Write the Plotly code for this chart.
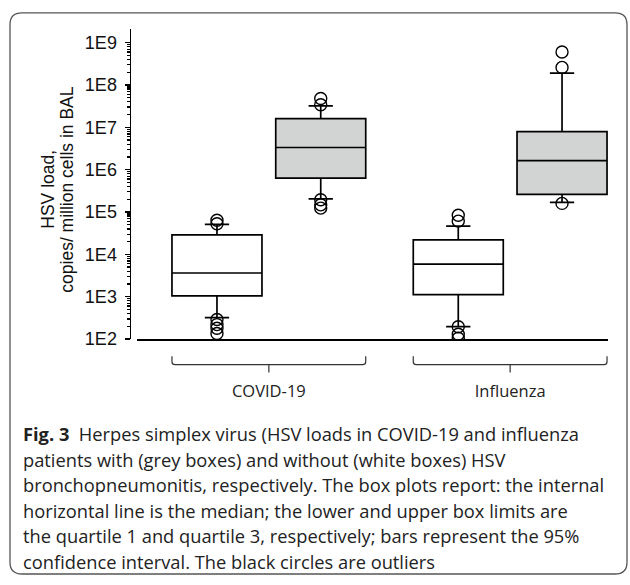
import plotly.graph_objects as go

# ---------------- data ----------------
categories = ["COVID-19", "Influenza"]

# without HSV bronchopneumonitis (white boxes)
without_q1 = [1.05e3, 1.12e3]
without_median = [3.64e3, 5.9e3]
without_q3 = [2.88e4, 2.2e4]
without_low = [3.2e2, 1.97e2]
without_high = [5.1e4, 4.66e4]
without_outliers = [
    [6.4e4, 5.3e4, 2.9e2, 2.2e2, 1.8e2, 1.36e2],
    [8.4e4, 6.1e4, 1.95e2, 1.3e2, 1.05e2],
]

# with HSV bronchopneumonitis (grey boxes)
with_q1 = [6.3e5, 2.6e5]
with_median = [3.34e6, 1.64e6]
with_q3 = [1.6e7, 7.9e6]
with_low = [2.05e5, 1.7e5]
with_high = [3.2e7, 1.9e8]
with_outliers = [
    [4.8e7, 3.4e7, 1.95e5, 1.48e5, 1.24e5],
    [6.0e8, 2.6e8, 1.6e5],
]

y_tick_vals = [1e2, 1e3, 1e4, 1e5, 1e6, 1e7, 1e8, 1e9]
y_tick_text = ["1E2", "1E3", "1E4", "1E5", "1E6", "1E7", "1E8", "1E9"]

y_title_lines = ["HSV load,", "copies/ million cells in BAL"]
caption_lines = [
    "<b>Fig. 3</b>  Herpes simplex virus (HSV loads in COVID-19 and influenza",
    "patients with (grey boxes) and without (white boxes) HSV",
    "bronchopneumonitis, respectively. The box plots report: the internal",
    "horizontal line is the median; the lower and upper box limits are",
    "the quartile 1 and quartile 3, respectively; bars represent the 95%",
    "confidence interval. The black circles are outliers",
]

# ---------------- layout constants ----------------
W, H = 630, 585
OFF = 0.215
BOX_W = 0.373
GROUP_POS = list(range(len(categories)))


def px_x(p):
    return p / W


def px_y(p):
    return 1 - p / H


fig = go.Figure()

series = [
    ("without", -OFF, "white", without_q1, without_median, without_q3, without_low, without_high, without_outliers),
    ("with", OFF, "#d2d3d3", with_q1, with_median, with_q3, with_low, with_high, with_outliers),
]

for name, off, fill, q1, med, q3, lo, hi, outl in series:
    xs = [g + off for g in GROUP_POS]
    fig.add_trace(go.Box(
        x=xs, q1=q1, median=med, q3=q3, lowerfence=lo, upperfence=hi,
        width=BOX_W, whiskerwidth=0.27, fillcolor=fill,
        line=dict(color="black", width=1.7), boxpoints=False,
        name=name, showlegend=False, hoverinfo="skip",
    ))
    ox, oy = [], []
    for g, vals in zip(GROUP_POS, outl):
        for v in vals:
            ox.append(g + off)
            oy.append(v)
    fig.add_trace(go.Scatter(
        x=ox, y=oy, mode="markers",
        marker=dict(symbol="circle-open", size=12, color="black", line=dict(width=1.4)),
        showlegend=False, hoverinfo="skip",
    ))

# group brackets
r = 0.013
for g in GROUP_POS:
    x0 = g - OFF - BOX_W / 2
    x1 = g + OFF + BOX_W / 2
    yt, yh, yb = px_y(362.5), px_y(371), px_y(379)
    dy = 3 / H
    path = (f"M {x0},{yt} L {x0},{yh + dy} Q {x0},{yh} {x0 + r},{yh} "
            f"L {x1 - r},{yh} Q {x1},{yh} {x1},{yh + dy} L {x1},{yt} "
            f"M {g},{yh} L {g},{yb}")
    fig.add_shape(type="path", path=path, xref="x", yref="paper",
                  line=dict(color="#333", width=1.2))

# frame
fl, fr, ft, fb, cr = px_x(10), px_x(627), px_y(13), px_y(584), 12
rx, ry = cr / W, cr / H
frame = (f"M {fl + rx},{ft} L {fr - rx},{ft} Q {fr},{ft} {fr},{ft - ry} "
         f"L {fr},{fb + ry} Q {fr},{fb} {fr - rx},{fb} L {fl + rx},{fb} "
         f"Q {fl},{fb} {fl},{fb + ry} L {fl},{ft - ry} Q {fl},{ft} {fl + rx},{ft} Z")
fig.add_shape(type="path", path=frame, xref="paper", yref="paper",
              line=dict(color="#555", width=1.3))

# y-axis title (two lines, rotated)
for line, xc in zip(y_title_lines, [48, 67]):
    fig.add_annotation(
        text=line, textangle=-90,
        x=px_x(xc), y=px_y(193), xref="paper", yref="paper",
        xanchor="center", yanchor="middle",
        showarrow=False, font=dict(family="Liberation Sans, Arial", size=17.5, color="#111"),
    )

# caption
for i, line in enumerate(caption_lines):
    fig.add_annotation(
        text=line, x=px_x(21), y=px_y(441 + i * 26), xref="paper", yref="paper",
        xanchor="left", yanchor="middle", showarrow=False, align="left",
        font=dict(family="Open Sans", size=18.3, color="#222"),
    )

minor_vals = [k * 10 ** e for e in range(2, 9) for k in range(2, 10)]

fig.update_layout(
    width=W, height=H, margin=dict(l=0, r=0, t=0, b=0),
    paper_bgcolor="white", plot_bgcolor="white",
    xaxis=dict(
        domain=[px_x(137), px_x(608)], range=[-0.5464, 1.4055],
        showline=True, linecolor="black", linewidth=1.5,
        tickmode="array", tickvals=GROUP_POS, ticktext=categories,
        ticks="", showgrid=False, zeroline=False, ticklabelstandoff=37,
        tickfont=dict(family="Open Sans", size=16.5, color="#222"),
    ),
    yaxis=dict(
        type="log", range=[2, 9.31],
        domain=[px_y(345), px_y(30)], anchor="free", position=px_x(129.5),
        showline=True, linecolor="black", linewidth=1.3,
        tickmode="array", tickvals=y_tick_vals, ticktext=y_tick_text,
        ticks="outside", ticklen=5, tickcolor="black", tickwidth=1.3,
        minor=dict(tickmode="array", tickvals=minor_vals, ticks="outside",
                   ticklen=3, tickcolor="black", showgrid=False),
        showgrid=False, zeroline=False, ticklabelstandoff=4,
        tickfont=dict(family="Liberation Sans, Arial", size=18, color="#111"),
    ),
)

fig.write_html("out.html",
               config={"displayModeBar": False, "staticPlot": True},
               post_script="document.body.style.margin='0';document.body.style.overflow='hidden';")
